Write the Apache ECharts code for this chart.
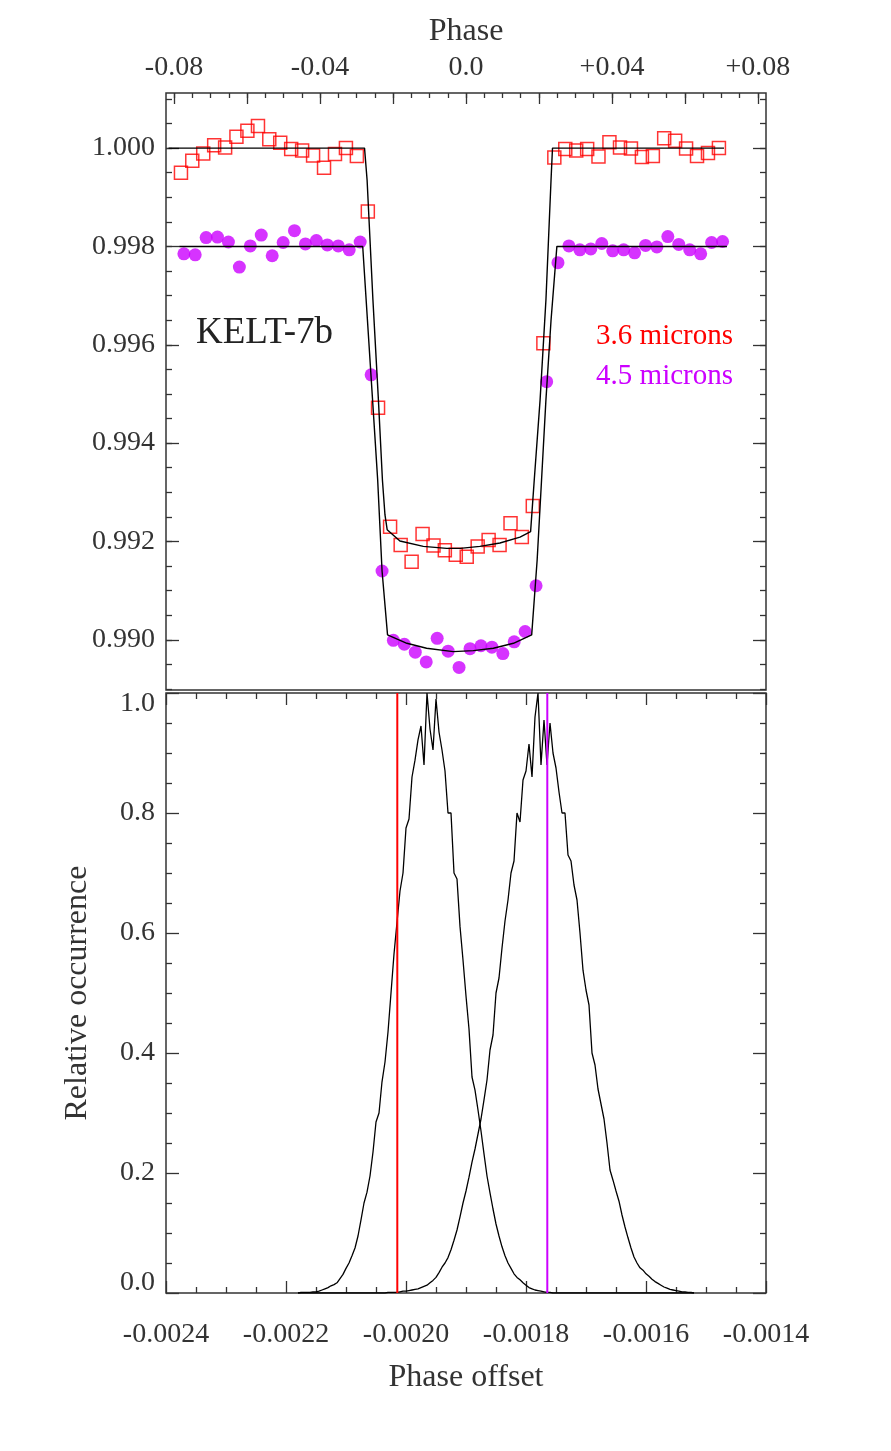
<!DOCTYPE html>
<html>
<head>
  <meta charset="utf-8">
  <script src="https://cdn.jsdelivr.net/npm/echarts@6/dist/echarts.min.js"></script>
  <style>
    html, body { margin: 0; padding: 0; background: #fff; }
    #main { width: 891px; height: 1451px; }
  </style>
</head>
<body>
  <div id="main"></div>
  <script>
    // binned light curves, 3.6 and 4.5 microns
    const PHASE_36 = [
      -0.0781, -0.0750, -0.0720, -0.0690, -0.0660, -0.0629, -0.0599, -0.0570, -0.0539, -0.0509,
      -0.0479, -0.0449, -0.0419, -0.0389, -0.0359, -0.0329, -0.0299, -0.0269, -0.0241, -0.0208,
      -0.0179, -0.0149, -0.0119, -0.0089, -0.0058, -0.0028, 0.0002, 0.0032, 0.0062, 0.0092,
      0.0122, 0.0153, 0.0183, 0.0212, 0.0242, 0.0272, 0.0302, 0.0332, 0.0363, 0.0393,
      0.0422, 0.0452, 0.0482, 0.0512, 0.0543, 0.0573, 0.0603, 0.0633, 0.0663, 0.0693
    ];
    const FLUX_36 = [
      0.99950, 0.99974, 0.99989, 1.00006, 1.00001, 1.00023, 1.00035, 1.00045, 1.00018, 1.00011,
      0.99998, 0.99995, 0.99985, 0.99960, 0.99988, 1.00000, 0.99984, 0.99871, 0.99472, 0.99230,
      0.99193, 0.99159, 0.99215, 0.99192, 0.99182, 0.99173, 0.99169, 0.99190, 0.99203, 0.99193,
      0.99237, 0.99209, 0.99272, 0.99603, 0.99981, 0.99998, 0.99995, 0.99998, 0.99983, 1.00012,
      1.00001, 0.99999, 0.99982, 0.99984, 1.00020, 1.00015, 0.99999, 0.99984, 0.99990, 1.00000
    ];
    const PHASE_45 = [
      -0.0773, -0.0742, -0.0712, -0.0681, -0.0651, -0.0621, -0.0591, -0.0561, -0.0531, -0.0501,
      -0.0470, -0.0440, -0.0410, -0.0380, -0.0350, -0.0320, -0.0290, -0.0260, -0.0230, -0.0199,
      -0.0169, -0.0139, -0.0109, -0.0079, -0.0049, -0.0019, 0.0011, 0.0041, 0.0071, 0.0101,
      0.0132, 0.0162, 0.0192, 0.0221, 0.0252, 0.0282, 0.0312, 0.0342, 0.0372, 0.0402,
      0.0432, 0.0462, 0.0492, 0.0523, 0.0553, 0.0583, 0.0613, 0.0643, 0.0673, 0.0703
    ];
    const FLUX_45 = [
      0.99785, 0.99783, 0.99818, 0.99819, 0.99809, 0.99758, 0.99801, 0.99823, 0.99781, 0.99808,
      0.99832, 0.99805, 0.99812, 0.99803, 0.99801, 0.99793, 0.99809, 0.99539, 0.99140, 0.98999,
      0.98991, 0.98975, 0.98955, 0.99003, 0.98977, 0.98944, 0.98982, 0.98988, 0.98985, 0.98972,
      0.98996, 0.99017, 0.99110, 0.99525, 0.99767, 0.99801, 0.99793, 0.99795, 0.99806, 0.99791,
      0.99793, 0.99787, 0.99802, 0.99799, 0.99820, 0.99804, 0.99793, 0.99785, 0.99808, 0.99810
    ];

    // transit models (black curves)
    const MODEL_36_PHASE = [
      -0.0815, -0.0278, -0.0271, -0.0255, -0.0240, -0.0229, -0.0222, -0.0216,
      -0.0181, -0.0117, -0.0053, -0.0016, 0.0038, 0.0093, 0.0148, 0.0177,
      0.0187, 0.0203, 0.0219, 0.0233, 0.0237, 0.0707
    ];
    const MODEL_36_FLUX = [
      1.00000, 1.00000, 0.99935, 0.99691, 0.99488, 0.99325, 0.99254, 0.99224,
      0.99201, 0.99190, 0.99186, 0.99186, 0.99190, 0.99197, 0.99209, 0.99220,
      0.99325, 0.99488, 0.99691, 0.99935, 1.00000, 1.00000
    ];
    const MODEL_45_PHASE = [
      -0.0786, -0.0283, -0.0256, -0.0242, -0.0230, -0.0215,
      -0.0162, -0.0108, -0.0035, 0.0020, 0.0075, 0.0130, 0.0180,
      0.0195, 0.0207, 0.0219, 0.0233, 0.0249, 0.0715
    ];
    const MODEL_45_FLUX = [
      0.99800, 0.99800, 0.99488, 0.99325, 0.99140, 0.99010,
      0.98993, 0.98983, 0.98976, 0.98978, 0.98983, 0.98993, 0.99010,
      0.99163, 0.99325, 0.99488, 0.99650, 0.99800, 0.99800
    ];

    // posterior histograms of the phase offset
    const HIST_OFFSET = [
      -0.002180, -0.002175, -0.002170, -0.002165, -0.002160, -0.002155, -0.002150, -0.002145, -0.002140, -0.002135,
      -0.002130, -0.002125, -0.002120, -0.002115, -0.002110, -0.002105, -0.002100, -0.002095, -0.002090, -0.002085,
      -0.002080, -0.002075, -0.002070, -0.002065, -0.002060, -0.002055, -0.002050, -0.002045, -0.002040, -0.002035,
      -0.002030, -0.002025, -0.002020, -0.002015, -0.002010, -0.002005, -0.002000, -0.001995, -0.001990, -0.001985,
      -0.001980, -0.001975, -0.001970, -0.001965, -0.001960, -0.001955, -0.001950, -0.001945, -0.001940, -0.001935,
      -0.001930, -0.001925, -0.001920, -0.001915, -0.001910, -0.001905, -0.001900, -0.001895, -0.001890, -0.001885,
      -0.001880, -0.001875, -0.001870, -0.001865, -0.001860, -0.001855, -0.001850, -0.001845, -0.001840, -0.001835,
      -0.001830, -0.001825, -0.001820, -0.001815, -0.001810, -0.001805, -0.001800, -0.001795, -0.001790, -0.001785,
      -0.001780, -0.001775, -0.001770, -0.001765, -0.001760, -0.001755, -0.001750, -0.001745, -0.001740, -0.001735,
      -0.001730, -0.001725, -0.001720, -0.001715, -0.001710, -0.001705, -0.001700, -0.001695, -0.001690, -0.001685,
      -0.001680, -0.001675, -0.001670, -0.001665, -0.001660, -0.001655, -0.001650, -0.001645, -0.001640, -0.001635,
      -0.001630, -0.001625, -0.001620, -0.001615, -0.001610, -0.001605, -0.001600, -0.001595, -0.001590, -0.001585,
      -0.001580, -0.001575, -0.001570, -0.001565, -0.001560, -0.001555, -0.001550, -0.001545, -0.001540, -0.001535,
      -0.001530, -0.001525, -0.001520
    ];
    const HIST_36 = [
      0, 0.001, 0.001, 0.001, 0.001, 0.002, 0.002, 0.003, 0.005, 0.007,
      0.009, 0.012, 0.014, 0.017, 0.024, 0.031, 0.041, 0.050, 0.062, 0.075,
      0.095, 0.122, 0.150, 0.168, 0.195, 0.235, 0.285, 0.300, 0.352, 0.385,
      0.435, 0.500, 0.565, 0.618, 0.670, 0.700, 0.775, 0.790, 0.860, 0.888,
      0.922, 0.945, 0.880, 1.000, 0.940, 0.905, 0.990, 0.935, 0.905, 0.870,
      0.800, 0.800, 0.700, 0.690, 0.611, 0.555, 0.495, 0.440, 0.360, 0.338,
      0.305, 0.270, 0.232, 0.195, 0.167, 0.140, 0.115, 0.095, 0.077, 0.062,
      0.050, 0.041, 0.032, 0.026, 0.022, 0.017, 0.013, 0.009, 0.007, 0.005,
      0.004, 0.003, 0.002, 0.001, 0.001, 0, 0, 0, 0, 0,
      0, 0, 0, 0, 0, 0, 0, 0, 0, 0,
      0, 0, 0, 0, 0, 0, 0, 0, 0, 0,
      0, 0, 0, 0, 0, 0, 0, 0, 0, 0,
      0, 0, 0, 0, 0, 0, 0, 0, 0, 0,
      0, 0, 0
    ];
    const HIST_45 = [
      0, 0, 0, 0, 0, 0, 0, 0, 0, 0,
      0, 0, 0, 0, 0, 0, 0, 0, 0, 0,
      0, 0, 0, 0, 0, 0, 0, 0, 0, 0,
      0.001, 0.001, 0.001, 0.001, 0.002, 0.003, 0.003, 0.004, 0.005, 0.006,
      0.007, 0.009, 0.011, 0.013, 0.017, 0.021, 0.026, 0.034, 0.043, 0.050,
      0.059, 0.072, 0.088, 0.105, 0.127, 0.150, 0.170, 0.193, 0.218, 0.240,
      0.265, 0.290, 0.322, 0.355, 0.405, 0.430, 0.500, 0.525, 0.575, 0.620,
      0.655, 0.700, 0.720, 0.800, 0.785, 0.855, 0.870, 0.915, 0.860, 0.960,
      1.000, 0.880, 0.955, 0.880, 0.950, 0.900, 0.875, 0.835, 0.800, 0.800,
      0.730, 0.720, 0.680, 0.655, 0.600, 0.538, 0.505, 0.480, 0.400, 0.380,
      0.340, 0.315, 0.290, 0.250, 0.205, 0.188, 0.170, 0.153, 0.130, 0.110,
      0.092, 0.075, 0.060, 0.050, 0.042, 0.038, 0.032, 0.028, 0.023, 0.019,
      0.016, 0.013, 0.010, 0.008, 0.006, 0.005, 0.004, 0.003, 0.002, 0.002,
      0.001, 0.001, 0
    ];
    const BEST_36 = -0.0020145;
    const BEST_45 = -0.0017645;

    // tick positions
    const PHASE_LABELS = [-0.08, -0.04, 0, 0.04, 0.08];
    const PHASE_MAJOR = [-0.08, -0.06, -0.04, -0.02, 0, 0.02, 0.04, 0.06, 0.08];
    const PHASE_MINOR = [
      -0.08, -0.075, -0.07, -0.065, -0.06, -0.055, -0.05, -0.045, -0.04, -0.035, -0.03,
      -0.025, -0.02, -0.015, -0.01, -0.005, 0, 0.005, 0.01, 0.015, 0.02, 0.025, 0.03,
      0.035, 0.04, 0.045, 0.05, 0.055, 0.06, 0.065, 0.07, 0.075, 0.08
    ];
    const FLUX_MAJOR = [0.990, 0.992, 0.994, 0.996, 0.998, 1.000];
    const FLUX_MINOR = [
      0.9890, 0.9895, 0.9900, 0.9905, 0.9910, 0.9915, 0.9920, 0.9925, 0.9930, 0.9935,
      0.9940, 0.9945, 0.9950, 0.9955, 0.9960, 0.9965, 0.9970, 0.9975, 0.9980, 0.9985,
      0.9990, 0.9995, 1.0000, 1.0005, 1.0010
    ];

    const RED = '#ff0000';
    const MAGENTA = '#cc00ff';
    const INK = '#333333';
    const FONT = 'Liberation Serif';

    const zip = (xs, ys) => xs.map((x, i) => [x, ys[i]]);

    const label = { fontFamily: FONT, fontSize: 28, color: INK };
    const nameStyle = { fontFamily: FONT, fontSize: 32, color: INK };
    const noLabel = { show: false };
    const tickLine = { color: INK, width: 1.3 };
    const hiddenLine = { show: false, onZero: false };

    // top panel axes: one carries labels and long ticks, a twin carries short ticks
    const phaseAxis = (minor, extra) => Object.assign({
      type: 'value', gridIndex: 0, position: 'top',
      min: -0.0822, max: 0.0822,
      axisLine: hiddenLine,
      splitLine: { show: false },
      axisTick: {
        inside: true, length: minor ? 5 : 11,
        customValues: minor ? PHASE_MINOR : PHASE_MAJOR,
        lineStyle: tickLine
      },
      axisLabel: noLabel
    }, extra || {});

    const fluxAxis = (minor, side, extra) => Object.assign({
      type: 'value', gridIndex: 0, position: side,
      min: 0.98898, max: 1.00112,
      axisLine: hiddenLine,
      splitLine: { show: false },
      axisTick: {
        inside: true, length: minor ? 6 : 13,
        customValues: minor ? FLUX_MINOR : FLUX_MAJOR,
        lineStyle: tickLine
      },
      axisLabel: noLabel
    }, extra || {});

    const offsetAxis = (side, extra) => Object.assign({
      type: 'value', gridIndex: 1, position: side,
      min: -0.0024, max: -0.0014, interval: 0.0002,
      axisLine: hiddenLine,
      splitLine: { show: false },
      axisTick: { inside: true, length: 12, lineStyle: tickLine },
      minorTick: { show: true, splitNumber: 4, length: 6, lineStyle: tickLine },
      axisLabel: noLabel
    }, extra || {});

    const occAxis = (side, extra) => Object.assign({
      type: 'value', gridIndex: 1, position: side,
      min: 0, max: 1, interval: 0.2,
      axisLine: hiddenLine,
      splitLine: { show: false },
      axisTick: { inside: true, length: 13, lineStyle: tickLine },
      minorTick: { show: true, splitNumber: 4, length: 6, lineStyle: tickLine },
      axisLabel: noLabel
    }, extra || {});

    const option = {
      backgroundColor: '#fff',
      animation: false,
      grid: [
        { left: 166, top: 93, width: 600, height: 597, show: true, borderColor: INK, borderWidth: 1.5 },
        { left: 166, top: 693, width: 600, height: 600, show: true, borderColor: INK, borderWidth: 1.5 }
      ],
      xAxis: [
        phaseAxis(false, {
          name: 'Phase', nameLocation: 'middle', nameGap: 45,
          nameTextStyle: nameStyle,
          axisLabel: Object.assign({}, label, {
            margin: 11,
            customValues: PHASE_LABELS,
            formatter: v => v === 0 ? '0.0' : (v > 0 ? '+' + v.toFixed(2) : v.toFixed(2))
          })
        }),
        phaseAxis(true),
        offsetAxis('bottom', {
          name: 'Phase offset', nameLocation: 'middle', nameGap: 69,
          nameTextStyle: nameStyle,
          axisLabel: Object.assign({}, label, { margin: 28, formatter: v => v.toFixed(4) })
        }),
        offsetAxis('top')
      ],
      yAxis: [
        fluxAxis(false, 'left', {
          axisLabel: Object.assign({}, label, {
            margin: 11, customValues: FLUX_MAJOR, formatter: v => v.toFixed(3)
          })
        }),
        fluxAxis(true, 'left'),
        fluxAxis(false, 'right'),
        fluxAxis(true, 'right'),
        occAxis('left', {
          name: 'Relative occurrence', nameLocation: 'middle', nameGap: 72,
          nameTextStyle: nameStyle,
          axisLabel: Object.assign({}, label, {
            margin: 11,
            formatter: v => v === 1 ? '{t|1.0}' : (v === 0 ? '{b|0.0}' : v.toFixed(1)),
            rich: {
              t: { fontFamily: FONT, fontSize: 28, color: INK, padding: [22, 0, 0, 0] },
              b: { fontFamily: FONT, fontSize: 28, color: INK, padding: [0, 0, 20, 0] }
            }
          })
        }),
        occAxis('right')
      ],
      graphic: [
        { type: 'text', x: 196, y: 333, style: { text: 'KELT-7b', font: '37px "Liberation Serif"', fill: '#222', verticalAlign: 'middle' } },
        { type: 'text', x: 733, y: 336, style: { text: '3.6 microns', font: '29px "Liberation Serif"', fill: RED, align: 'right', verticalAlign: 'middle' } },
        { type: 'text', x: 733, y: 376, style: { text: '4.5 microns', font: '29px "Liberation Serif"', fill: MAGENTA, align: 'right', verticalAlign: 'middle' } }
      ],
      series: [
        {
          name: '3.6 microns', type: 'scatter', xAxisIndex: 0, yAxisIndex: 0,
          symbol: 'rect', symbolSize: 13,
          itemStyle: { color: 'rgba(0,0,0,0)', borderColor: RED, borderWidth: 1.5 },
          data: zip(PHASE_36, FLUX_36)
        },
        {
          name: '4.5 microns', type: 'scatter', xAxisIndex: 0, yAxisIndex: 0,
          symbol: 'circle', symbolSize: 13,
          itemStyle: { color: MAGENTA },
          data: zip(PHASE_45, FLUX_45)
        },
        {
          type: 'line', xAxisIndex: 0, yAxisIndex: 0, showSymbol: false,
          lineStyle: { color: '#000', width: 1.4 },
          data: zip(MODEL_36_PHASE, MODEL_36_FLUX)
        },
        {
          type: 'line', xAxisIndex: 0, yAxisIndex: 0, showSymbol: false,
          lineStyle: { color: '#000', width: 1.4 },
          data: zip(MODEL_45_PHASE, MODEL_45_FLUX)
        },
        {
          type: 'line', xAxisIndex: 2, yAxisIndex: 4, showSymbol: false,
          lineStyle: { color: '#000', width: 1.3 },
          data: zip(HIST_OFFSET, HIST_36)
        },
        {
          type: 'line', xAxisIndex: 2, yAxisIndex: 4, showSymbol: false,
          lineStyle: { color: '#000', width: 1.3 },
          data: zip(HIST_OFFSET, HIST_45)
        },
        {
          type: 'line', xAxisIndex: 2, yAxisIndex: 4, showSymbol: false,
          lineStyle: { color: RED, width: 2 },
          data: [[BEST_36, 0], [BEST_36, 1]]
        },
        {
          type: 'line', xAxisIndex: 2, yAxisIndex: 4, showSymbol: false,
          lineStyle: { color: MAGENTA, width: 2 },
          data: [[BEST_45, 0], [BEST_45, 1]]
        }
      ]
    };

    const myChart = echarts.init(document.getElementById('main'), null, { renderer: 'canvas' });
    myChart.setOption(option);
  </script>
</body>
</html>
